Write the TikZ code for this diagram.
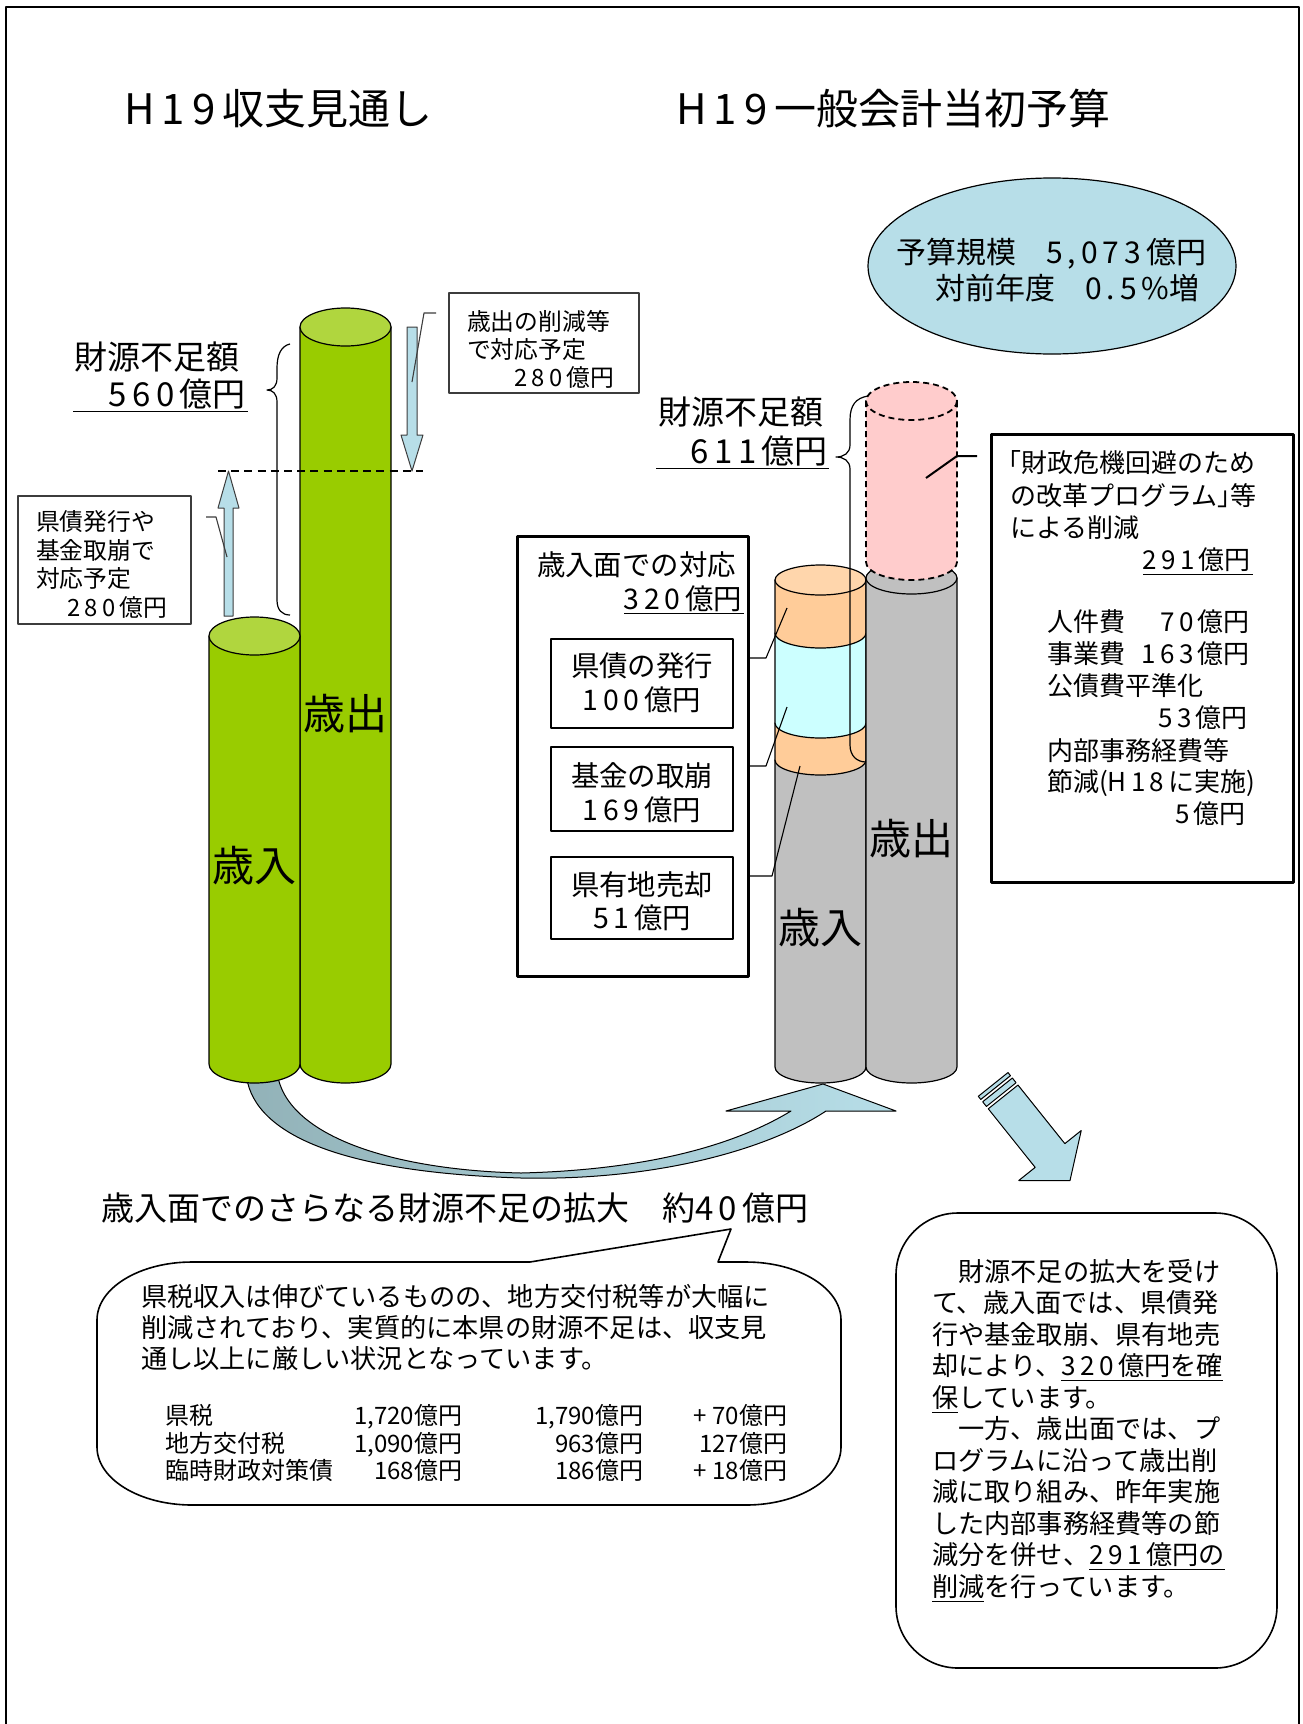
\documentclass[tikz,border=0pt]{standalone}
\usepackage{fontspec}
\setmainfont{Noto Sans CJK JP}
\usetikzlibrary{shapes.geometric}
\definecolor{grn}{RGB}{153,204,0}
\definecolor{grntop}{RGB}{176,214,62}
\definecolor{gry}{RGB}{192,192,192}
\definecolor{org}{RGB}{255,204,153}
\definecolor{orgtop}{RGB}{255,214,172}
\definecolor{cyn}{RGB}{204,255,255}
\definecolor{pnk}{RGB}{255,204,204}
\definecolor{lblue}{RGB}{183,222,232}
\definecolor{tailc}{RGB}{146,178,184}
\definecolor{edgegray}{RGB}{60,60,60}
\makeatletter
\newcommand\sd[1]{\sd@loop#1\@nil}
\def\sd@loop#1{\ifx\@nil#1\else#1\kern.17em\expandafter\sd@loop\fi}
\makeatother
\tikzset{
  tx/.style={inner sep=0pt,outer sep=0pt},
  ftitle/.style={tx,font=\fontsize{21}{25}\selectfont},
  fbig/.style={tx,font=\fontsize{16.5}{20}\selectfont},
  fell/.style={tx,font=\fontsize{15}{18}\selectfont},
  fmid/.style={tx,font=\fontsize{14.2}{17}\selectfont},
  fbub/.style={tx,font=\fontsize{13.1}{16}\selectfont},
  fbox/.style={tx,font=\fontsize{13}{16}\selectfont},
  fsm/.style={tx,font=\fontsize{11.9}{14}\selectfont},
  ftab/.style={tx,font=\fontsize{12}{14}\selectfont},
  ln/.style={line width=0.6pt},
  leader/.style={line width=0.55pt,draw=edgegray},
  thinbox/.style={line width=0.7pt,draw=edgegray},
  thickbox/.style={line width=1.5pt,draw=black},
  blockarrow/.style={fill=lblue,draw=edgegray,line width=0.5pt},
}
\begin{document}
\begin{tikzpicture}[x=0.5pt,y=-0.5pt,line join=round]
\useasboundingbox (0,0) rectangle (1302,1724);
\fill[white] (0,0) rectangle (1302,1724);
\draw[line width=1.3pt] (6,1760) -- (6,7) -- (1299,7) -- (1299,1760);

% ---------- titles
\node[ftitle,anchor=base west] (ttl1) at (124,124) {\sd{H19}収支見通し};
\node[ftitle,anchor=base west] (ttl2) at (676,124) {\sd{H19}一般会計当初予算};

% ---------- budget ellipse
\node[ellipse,draw,fill=lblue,line width=0.6pt,minimum width=184pt,minimum height=88pt,inner sep=0pt] (scale) at (1052,266) {};
\node[fell,anchor=base west] (sc1) at (896,263) {予算規模　\sd{5,073}億円};
\node[fell,anchor=base west] (sc2) at (935,299) {対前年度　\sd{0.5}\%増};

% ---------- curved arrow (bottom)
\draw[line width=0.5pt,left color=tailc,right color=lblue]
  (246,1072) .. controls (250,1130) and (330,1172) .. (521,1178)
  .. controls (660,1181) and (770,1148) .. (826,1111)
  -- (896,1111) -- (823,1084) -- (726,1111) -- (791,1111)
  .. controls (730,1148) and (640,1170) .. (521,1173)
  .. controls (390,1170) and (285,1135) .. (277,1072) -- cycle;

% ---------- green cylinders
\filldraw[ln,fill=grn] (300,327) -- (300,1064) arc[start angle=180,end angle=0,x radius=45.5,y radius=19] -- (391,327) -- cycle;
\filldraw[ln,fill=grntop] (345.5,327) ellipse[x radius=45.5,y radius=19];
\filldraw[ln,fill=grn] (209,636) -- (209,1064) arc[start angle=180,end angle=0,x radius=45.5,y radius=19] -- (300,636) -- cycle;
\filldraw[ln,fill=grntop] (254.5,636) ellipse[x radius=45.5,y radius=19];
\node[ftitle,anchor=base] (gout) at (345,729) {歳出};
\node[ftitle,anchor=base] (gin) at (254,881) {歳入};

% ---------- left brace and label
\draw[ln] (290,344) .. controls (281,346) and (277,355) .. (277,368) -- (277,378)
  .. controls (277,386) and (273,390) .. (267,390) .. controls (273,390) and (277,394) .. (277,402)
  -- (277,600) .. controls (277,610) and (282,615) .. (290,615);
\node[fbig,anchor=base west] (lgap1) at (74,369) {財源不足額};
\node[fbig,anchor=base east] (lgap2) at (246,406) {\sd{560}億円};
\draw[line width=0.5pt] (73,411) -- (248,411);

% ---------- arrows and dashed level
\filldraw[blockarrow] (224,616) -- (224,508) -- (218,508) -- (228.5,471) -- (239,508) -- (233,508) -- (233,616) -- cycle;
\filldraw[blockarrow] (407,327) -- (407,435) -- (401,435) -- (412,471) -- (423,435) -- (417,435) -- (417,327) -- cycle;
\draw[line width=0.9pt,dash pattern=on 4pt off 2.6pt] (218,471) -- (423,471);

% ---------- small boxes
\draw[thinbox] (449,293) rectangle (639,393);
\node[fsm,anchor=base west] (db1) at (467,330) {歳出の削減等};
\node[fsm,anchor=base west] (db2) at (467,358) {で対応予定};
\node[fsm,anchor=base east] (db3) at (614,386) {\sd{280}億円};
\coordinate (dbA) at (436,313); \coordinate (dbB) at (424,313); \coordinate (dbC) at (412,382);
\draw[leader] (dbA) -- (dbB) -- (dbC);

\draw[thinbox] (18,496) rectangle (191,624);
\node[fsm,anchor=base west] (ub1) at (36,530) {県債発行や};
\node[fsm,anchor=base west] (ub2) at (36,559) {基金取崩で};
\node[fsm,anchor=base west] (ub3) at (36,587) {対応予定};
\node[fsm,anchor=base east] (ub4) at (167,616) {\sd{280}億円};
\coordinate (ubA) at (206,517); \coordinate (ubB) at (216,517); \coordinate (ubC) at (227,557);
\draw[leader] (ubA) -- (ubB) -- (ubC);

% ---------- right cylinders
% revenue stack
\filldraw[ln,fill=gry] (775,760) -- (775,1067) arc[start angle=180,end angle=0,x radius=45.5,y radius=16] -- (866,760) -- cycle;
\filldraw[ln,fill=org] (775,723) -- (775,760) arc[start angle=180,end angle=0,x radius=45.5,y radius=15] -- (866,723) -- cycle;
\filldraw[ln,fill=cyn] (775,633) -- (775,723) arc[start angle=180,end angle=0,x radius=45.5,y radius=15] -- (866,633) -- cycle;
\filldraw[ln,fill=org] (775,580) -- (775,633) arc[start angle=180,end angle=0,x radius=45.5,y radius=15] -- (866,633) -- (866,580) -- cycle;
\filldraw[ln,fill=orgtop] (820.5,580) ellipse[x radius=45.5,y radius=15];
% expenditure
\filldraw[ln,fill=gry] (866,578) -- (866,1067) arc[start angle=180,end angle=0,x radius=45.5,y radius=16] -- (957,578) -- cycle;
\filldraw[ln,fill=gry] (911.5,578) ellipse[x radius=45.5,y radius=16];
% pink dashed deficit
\filldraw[line width=0.9pt,dash pattern=on 3pt off 2pt,fill=pnk] (866,401) -- (866,562) arc[start angle=180,end angle=0,x radius=45.5,y radius=18] -- (957,401) -- cycle;
\filldraw[line width=0.9pt,dash pattern=on 3pt off 2pt,fill=pnk] (911.5,401) ellipse[x radius=45.5,y radius=19];
\node[ftitle,anchor=base] (rout) at (911,854) {歳出};
\node[ftitle,anchor=base] (rin) at (820,943) {歳入};

% ---------- right brace and label
\draw[ln] (868,396) .. controls (856,398) and (850,405) .. (850,420) -- (850,445)
  .. controls (850,453) and (844,457) .. (836,457) .. controls (844,457) and (850,461) .. (850,469)
  -- (850,745) .. controls (850,756) and (857,762) .. (866,762);
\node[fbig,anchor=base west] (rgap1) at (658,424) {財源不足額};
\node[fbig,anchor=base east] (rgap2) at (828,463) {\sd{611}億円};
\draw[line width=0.5pt] (656,468) -- (829,468);

% ---------- revenue-side box
\draw[thickbox] (517,536) rectangle (748,976);
\node[fmid,anchor=base west] (rv1) at (537,575) {歳入面での対応};
\node[fmid,anchor=base east] (rv2) at (742,609) {\sd{320}億円};
\draw[line width=0.5pt] (624,613) -- (744,613);
\draw[thinbox,draw=black] (551,639) rectangle (733,728);
\node[fmid,anchor=base] (bx1a) at (642,676) {県債の発行};
\node[fmid,anchor=base] (bx1b) at (642,710) {\sd{100}億円};
\draw[thinbox,draw=black] (551,747) rectangle (733,831);
\node[fmid,anchor=base] (bx2a) at (642,786) {基金の取崩};
\node[fmid,anchor=base] (bx2b) at (642,820) {\sd{169}億円};
\draw[thinbox,draw=black] (551,857) rectangle (733,939);
\node[fmid,anchor=base] (bx3a) at (642,895) {県有地売却};
\node[fmid,anchor=base] (bx3b) at (642,928) {\sd{51}億円};
\coordinate (rl1a) at (748,658); \coordinate (rl1b) at (766,658); \coordinate (rl1c) at (787,608);
\coordinate (rl2a) at (748,766); \coordinate (rl2b) at (766,766); \coordinate (rl2c) at (787,707);
\coordinate (rl3a) at (748,876); \coordinate (rl3b) at (772,876); \coordinate (rl3c) at (800,766);
\draw[line width=0.55pt] (rl1a) -- (rl1b) -- (rl1c);
\draw[line width=0.55pt] (rl2a) -- (rl2b) -- (rl2c);
\draw[line width=0.55pt] (rl3a) -- (rl3b) -- (rl3c);

% ---------- expenditure-cut box
\draw[thickbox] (991,434) rectangle (1293,882);
\node[fbox,anchor=base west] (ex1) at (1008,472) {｢財政危機回避のため};
\node[fbox,anchor=base west] (ex2) at (1010,505) {の改革プログラム｣等};
\node[fbox,anchor=base west] (ex3) at (1010,537) {による削減};
\node[fbox,anchor=base east] (ex4) at (1251,569) {\sd{291}億円};
\draw[line width=0.5pt] (1143,574) -- (1253,574);
\node[fbox,anchor=base west] (ex5) at (1047,631) {人件費};
\node[fbox,anchor=base east] (ex5v) at (1250,631) {\sd{70}億円};
\node[fbox,anchor=base west] (ex6) at (1047,663) {事業費};
\node[fbox,anchor=base east] (ex6v) at (1250,663) {\sd{163}億円};
\node[fbox,anchor=base west] (ex7) at (1047,695) {公債費平準化};
\node[fbox,anchor=base east] (ex7v) at (1248,727) {\sd{53}億円};
\node[fbox,anchor=base west] (ex8) at (1047,760) {内部事務経費等};
\node[fbox,anchor=base west] (ex9) at (1047,791) {節減(\sd{H18}に実施)};
\node[fbox,anchor=base east] (ex9v) at (1246,823) {\sd{5}億円};
\coordinate (exA) at (977,456); \coordinate (exB) at (957,456); \coordinate (exC) at (926,478);
\draw[line width=1pt] (exA) -- (exB) -- (exC);

% ---------- diagonal striped arrow
\begin{scope}[shift={(1050,1155.5)},x={(0.3125pt,-0.3905pt)},y={(0.3905pt,0.3125pt)}]
  \filldraw[blockarrow,draw=black] (0,-40) -- (32,0) -- (0,40) -- (0,19) -- (-75,19) -- (-75,-19) -- (0,-19) -- cycle;
  \filldraw[blockarrow,draw=black] (-84,-19) -- (-84,19) -- (-78,19) -- (-78,-19) -- cycle;
  \filldraw[blockarrow,draw=black] (-91,-19) -- (-91,19) -- (-87,19) -- (-87,-19) -- cycle;
\end{scope}

% ---------- heading and left bubble
\node[fbig,anchor=base west] (head) at (101,1220) {歳入面でのさらなる財源不足の拡大　約\sd{40}億円};
\draw[line width=0.8pt,fill=white] (192,1262) -- (530,1262) -- (731,1229) -- (718,1262) -- (746,1262)
  .. controls (798.5,1262) and (841,1288) .. (841,1320) -- (841,1447)
  .. controls (841,1479) and (798.5,1505) .. (746,1505) -- (192,1505)
  .. controls (139.5,1505) and (97,1479) .. (97,1447) -- (97,1320)
  .. controls (97,1288) and (139.5,1262) .. (192,1262) -- cycle;
\node[fbub,anchor=base west] (bb1) at (141,1306) {県税収入は伸びているものの、地方交付税等が大幅に};
\node[fbub,anchor=base west] (bb2) at (141,1337) {削減されており、実質的に本県の財源不足は、収支見};
\node[fbub,anchor=base west] (bb3) at (141,1368) {通し以上に厳しい状況となっています。};
\node[ftab,anchor=base west] (tr1) at (165,1424) {県税};
\node[ftab,anchor=base west] (tr2) at (165,1452) {地方交付税};
\node[ftab,anchor=base west] (tr3) at (165,1479) {臨時財政対策債};
\node[ftab,anchor=base east] (ta1) at (462,1424) {1,720億円};
\node[ftab,anchor=base east] (ta2) at (462,1452) {1,090億円};
\node[ftab,anchor=base east] (ta3) at (462,1479) {168億円};
\node[ftab,anchor=base east] (tb1) at (643,1424) {1,790億円};
\node[ftab,anchor=base east] (tb2) at (643,1452) {963億円};
\node[ftab,anchor=base east] (tb3) at (643,1479) {186億円};
\node[ftab,anchor=base east] (tc1) at (787,1424) {+ 70億円};
\node[ftab,anchor=base east] (tc2) at (787,1452) {127億円};
\node[ftab,anchor=base east] (tc3) at (787,1479) {+ 18億円};

% ---------- right bubble
\draw[line width=0.8pt,rounded corners=31pt] (896,1213) rectangle (1277,1668);
\node[fbub,anchor=base west] (rb1) at (932,1281) {　財源不足の拡大を受け};
\node[fbub,anchor=base west] (rb2) at (932,1312.5) {て、歳入面では、県債発};
\node[fbub,anchor=base west] (rb3) at (932,1344) {行や基金取崩、県有地売};
\node[fbub,anchor=base west] (rb4) at (932,1375.5) {却により、\underline{\sd{320}億円を確}};
\node[fbub,anchor=base west] (rb5) at (932,1407) {\underline{保}しています。};
\node[fbub,anchor=base west] (rb6) at (932,1438.5) {　一方、歳出面では、プ};
\node[fbub,anchor=base west] (rb7) at (932,1470) {ログラムに沿って歳出削};
\node[fbub,anchor=base west] (rb8) at (932,1501.5) {減に取り組み、昨年実施};
\node[fbub,anchor=base west] (rb9) at (932,1533) {した内部事務経費等の節};
\node[fbub,anchor=base west] (rb10) at (932,1564.5) {減分を併せ、\underline{\sd{291}億円の}};
\node[fbub,anchor=base west] (rb11) at (932,1596) {\underline{削減}を行っています。};
\end{tikzpicture}
\end{document}
